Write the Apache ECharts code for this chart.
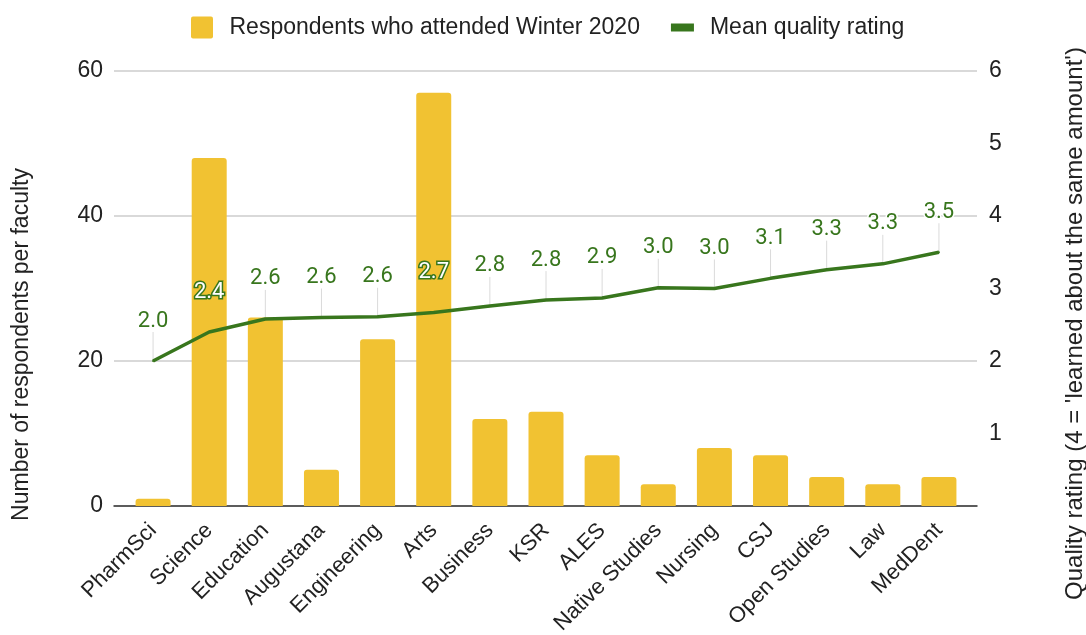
<!DOCTYPE html>
<html>
<head>
<meta charset="utf-8">
<script src="https://cdn.jsdelivr.net/npm/echarts@6/dist/echarts.min.js"></script>
<style>
  html, body { margin: 0; padding: 0; background: #fff; }
  #chart { width: 1086px; height: 635px; }
</style>
</head>
<body>
<div id="chart"></div>
<script>
// Faculty survey: respondents per faculty and their mean quality rating
const faculties = ['PharmSci', 'Science', 'Education', 'Augustana', 'Engineering', 'Arts',
  'Business', 'KSR', 'ALES', 'Native Studies', 'Nursing', 'CSJ', 'Open Studies', 'Law', 'MedDent'];
const respondents = [1, 48, 26, 5, 23, 57, 12, 13, 7, 3, 8, 7, 4, 3, 4];
const meanRating = [2.0, 2.4, 2.58, 2.6, 2.61, 2.67, 2.76, 2.84, 2.87, 3.01, 3.0, 3.14, 3.26, 3.34, 3.5];
const countTicks = [0, 20, 40, 60];
const ratingTicks = [1, 2, 3, 4, 5, 6];

const BAR_NAME = 'Respondents who attended Winter 2020';
const LINE_NAME = 'Mean quality rating';
const YELLOW = '#F1C232';
const GREEN = '#38761D';
const SANS = 'Liberation Sans, Arial, sans-serif';
const LABEL_GAP = 28;      // px between a point and the bottom of its value label
const LEADER_LEN = 29;     // px length of the grey leader line above each point

const chart = echarts.init(document.getElementById('chart'), null, { renderer: 'canvas' });

const plainLabel = { color: GREEN, textBorderColor: '#fff', textBorderWidth: 3 };
const onBarLabel = { color: '#fff', textBorderColor: GREEN, textBorderWidth: 3 };

function ratingData(overBar) {
  return meanRating.map((v, i) => ({
    value: v,
    label: overBar && overBar[i] ? onBarLabel : plainLabel
  }));
}

function buildOption(overBar) {
  return {
    backgroundColor: '#fff',
    animation: false,
    legend: {
      left: 186, top: 11,
      itemWidth: 23, itemHeight: 22, itemGap: 31,
      symbolKeepAspect: true,
      data: [
        { name: BAR_NAME, icon: 'path://M2,0h18a2,2 0 0 1 2,2v18a2,2 0 0 1 -2,2h-18a2,2 0 0 1 -2,-2v-18a2,2 0 0 1 2,-2z' },
        { name: LINE_NAME, icon: 'path://M0,0h23v8h-23z' }
      ],
      textStyle: { fontFamily: SANS, fontSize: 23, color: '#222', padding: [0, 0, 0, 11] }
    },
    grid: [
      // frame grid: gridlines, baseline and value-axis labels
      { left: 114, right: 109, top: 71, bottom: 129, outerBoundsMode: 'none', containLabel: false },
      // data grid: category bands
      { left: 125, right: 119, top: 71, bottom: 129, outerBoundsMode: 'none', containLabel: false }
    ],
    xAxis: [
      {
        gridIndex: 0, type: 'value', min: 0, max: 1,
        axisLine: { show: true, lineStyle: { color: '#333', width: 1.5 } },
        axisTick: { show: false }, axisLabel: { show: false }, splitLine: { show: false }
      },
      {
        gridIndex: 1, type: 'category', data: faculties,
        axisLine: { show: false }, axisTick: { show: false },
        axisLabel: {
          interval: 0, rotate: 45, margin: 21,
          fontFamily: SANS, fontSize: 22, color: '#222'
        }
      }
    ],
    yAxis: [
      {
        gridIndex: 0, type: 'value', min: countTicks[0], max: countTicks[countTicks.length - 1],
        interval: countTicks[1] - countTicks[0], position: 'left',
        name: 'Number of respondents per faculty', nameLocation: 'middle', nameGap: 81,
        nameTextStyle: { fontFamily: SANS, fontSize: 23, color: '#222', padding: [0, 112, 0, 0] },
        axisLine: { show: false }, axisTick: { show: false },
        axisLabel: { margin: 11, fontFamily: SANS, fontSize: 23, color: '#222' },
        splitLine: { lineStyle: { color: '#cccccc', width: 1.5 } }
      },
      {
        gridIndex: 0, type: 'value', min: 0, max: ratingTicks[ratingTicks.length - 1],
        interval: ratingTicks[1] - ratingTicks[0], position: 'right',
        name: "Quality rating (4 = 'learned about the same amount')",
        nameLocation: 'middle', nameGap: 86,
        nameTextStyle: { fontFamily: SANS, fontSize: 24, color: '#222', padding: [0, 70, 0, 0] },
        axisLine: { show: false }, axisTick: { show: false },
        axisLabel: {
          margin: 12, fontFamily: SANS, fontSize: 23, color: '#222',
          formatter: v => (ratingTicks.indexOf(v) >= 0 ? String(v) : '')
        },
        splitLine: { show: false }
      },
      {
        gridIndex: 1, type: 'value', min: countTicks[0], max: countTicks[countTicks.length - 1],
        show: false
      },
      {
        gridIndex: 1, type: 'value', min: 0, max: ratingTicks[ratingTicks.length - 1],
        show: false
      }
    ],
    series: [
      {
        // grey leader lines joining each value label to its point
        type: 'custom', name: 'leaders', xAxisIndex: 1, yAxisIndex: 3, z: 1,
        silent: true, legendHoverLink: false,
        data: meanRating.map((v, i) => [i, v]),
        renderItem: function (params, api) {
          const p = api.coord([api.value(0), api.value(1)]);
          return {
            type: 'line',
            shape: { x1: p[0], y1: p[1], x2: p[0], y2: p[1] - LEADER_LEN },
            style: { stroke: '#dadada', lineWidth: 1 }
          };
        }
      },
      {
        name: BAR_NAME, type: 'bar', xAxisIndex: 1, yAxisIndex: 2, z: 2,
        data: respondents, barWidth: 35,
        itemStyle: { color: YELLOW, borderRadius: [3, 3, 0, 0] }
      },
      {
        name: LINE_NAME, type: 'line', xAxisIndex: 1, yAxisIndex: 3, z: 3,
        data: ratingData(overBar),
        color: GREEN,
        showSymbol: true, symbol: 'circle', symbolSize: 2,
        lineStyle: { color: GREEN, width: 3.5 },
        itemStyle: { color: GREEN },
        label: {
          show: true, position: 'top', distance: LABEL_GAP,
          fontFamily: 'Roboto', fontSize: 22,
          formatter: p => Number(p.value).toFixed(1)
        }
      }
    ]
  };
}

chart.setOption(buildOption(null));

// Labels that sit inside a bar switch to white text with a green outline
const overBar = meanRating.map((v, i) => {
  const pt = chart.convertToPixel({ xAxisIndex: 1, yAxisIndex: 3 }, [i, v]);
  const top = chart.convertToPixel({ xAxisIndex: 1, yAxisIndex: 2 }, [i, respondents[i]]);
  const labelMid = pt[1] - LABEL_GAP - 10;
  return top[1] < labelMid;
});
chart.setOption(buildOption(overBar));
</script>
</body>
</html>
